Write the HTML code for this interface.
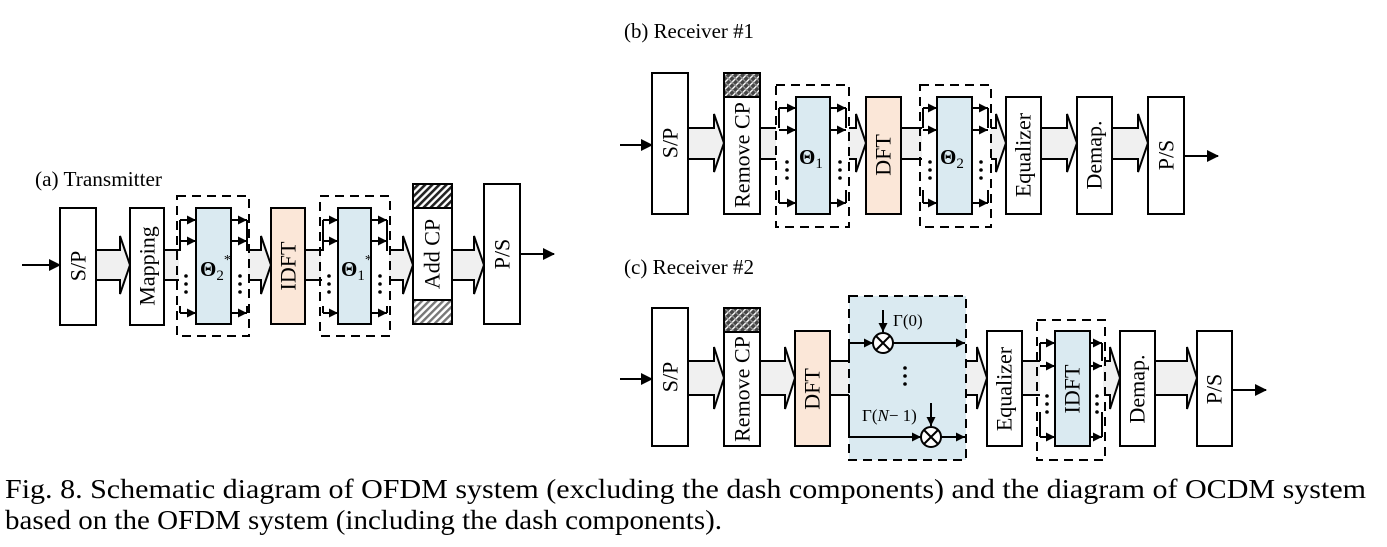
<!DOCTYPE html>
<html><head><meta charset="utf-8"><style>
html,body{margin:0;padding:0;background:#fff;}
svg{display:block;font-family:"Liberation Serif",serif;}
</style></head><body>
<svg width="1387" height="547" viewBox="0 0 1387 547" xmlns="http://www.w3.org/2000/svg">
<defs>
<marker id="ah" markerWidth="12" markerHeight="12" refX="11" refY="6" orient="auto" markerUnits="userSpaceOnUse"><path d="M0,0 L12,6 L0,12 z" fill="#000"/></marker>
<marker id="as" markerWidth="9" markerHeight="9" refX="9" refY="4.5" orient="auto" markerUnits="userSpaceOnUse"><path d="M0,0 L9,4.5 L0,9 z" fill="#000"/></marker>
<pattern id="hd" width="5" height="5" patternUnits="userSpaceOnUse" patternTransform="rotate(45)"><rect width="5" height="5" fill="#fff"/><rect width="2.6" height="5" fill="#222"/></pattern>
<pattern id="hg" width="5" height="5" patternUnits="userSpaceOnUse" patternTransform="rotate(45)"><rect width="5" height="5" fill="#fff"/><rect width="2.4" height="5" fill="#777"/></pattern>
<pattern id="hx" width="5" height="5" patternUnits="userSpaceOnUse" patternTransform="rotate(45)"><rect width="5" height="5" fill="#444"/><rect width="1.4" height="5" fill="#fff"/><rect width="5" height="1.2" fill="#999"/></pattern>
</defs>
<g stroke="#000" stroke-width="2" fill="none">

<!-- ===== (a) Transmitter ===== -->
<g fill="#f0f0f0">
<path d="M96,250 H120 V236 L130,265 L120,294 V280 H96"/>
<rect x="164" y="251" width="15" height="28" stroke="none"/>
<path d="M164,250 H179 M164,280 H179"/>
<rect x="248" y="251" width="14" height="28" stroke="none"/>
<path d="M249,250 H261 V236 L271,265 L261,294 V280 H249"/>
<rect x="305" y="251" width="16" height="28" stroke="none"/>
<path d="M305,250 H322 M305,280 H322"/>
<rect x="389" y="251" width="14" height="28" stroke="none"/>
<path d="M390,250 H403 V236 L413,265 L403,294 V280 H390"/>
<path d="M452,250 H474 V236 L484,265 L474,294 V280 H452"/>
</g>
<line x1="22" y1="265" x2="60" y2="265" marker-end="url(#ah)"/>
<line x1="520" y1="254" x2="554" y2="254" marker-end="url(#ah)"/>
<rect x="60" y="208" width="36" height="117" fill="#fff"/>
<rect x="130" y="208" width="34" height="117" fill="#fff"/>
<rect x="196" y="208" width="35" height="116" fill="#daeaf1"/>
<rect x="271" y="208" width="34" height="116" fill="#fbe7d8"/>
<rect x="338" y="208" width="33" height="116" fill="#daeaf1"/>
<rect x="413" y="184" width="39" height="140" fill="#fff"/>
<rect x="413" y="184" width="39" height="24" fill="url(#hd)"/>
<rect x="413" y="300" width="39" height="24" fill="url(#hg)"/>
<rect x="484" y="184" width="36" height="140" fill="#fff"/>
<rect x="177" y="196" width="72" height="140" stroke-dasharray="9,6"/>
<rect x="320" y="196" width="70" height="140" stroke-dasharray="9,6"/>
<path d="M180,251 V220 M180,306 V313 M247,220 V251 M247,306 V313 M323,251 V220 M323,306 V313 M387,220 V251 M387,306 V313"/>
<g marker-end="url(#as)">
<line x1="180" y1="220" x2="196" y2="220"/><line x1="180" y1="241" x2="196" y2="241"/><line x1="180" y1="313" x2="196" y2="313"/>
<line x1="231" y1="220" x2="247" y2="220"/><line x1="231" y1="241" x2="247" y2="241"/><line x1="231" y1="313" x2="247" y2="313"/>
<line x1="323" y1="220" x2="338" y2="220"/><line x1="323" y1="241" x2="338" y2="241"/><line x1="323" y1="313" x2="338" y2="313"/>
<line x1="371" y1="220" x2="387" y2="220"/><line x1="371" y1="241" x2="387" y2="241"/><line x1="371" y1="313" x2="387" y2="313"/>
</g>

<!-- ===== (b) Receiver #1 ===== -->
<g fill="#f0f0f0">
<path d="M688,128 H714 V114 L724,143 L714,172 V159 H688"/>
<rect x="760" y="129" width="16" height="29" stroke="none"/>
<path d="M760,128 H776 M760,159 H776"/>
<rect x="848" y="129" width="10" height="29" stroke="none"/>
<path d="M849,128 H856 V114 L866,143 L856,172 V159 H849"/>
<rect x="901" y="129" width="21" height="29" stroke="none"/>
<path d="M901,128 H922 M901,159 H922"/>
<rect x="990" y="129" width="8" height="29" stroke="none"/>
<path d="M991,128 H996 V114 L1006,143 L996,172 V159 H991"/>
<path d="M1041,128 H1067 V114 L1077,143 L1067,172 V159 H1041"/>
<path d="M1112,128 H1138 V114 L1148,143 L1138,172 V159 H1112"/>
</g>
<line x1="620" y1="145" x2="652" y2="145" marker-end="url(#ah)"/>
<line x1="1184" y1="156" x2="1218" y2="156" marker-end="url(#ah)"/>
<rect x="652" y="73" width="36" height="141" fill="#fff"/>
<rect x="724" y="73" width="36" height="141" fill="#fff"/>
<rect x="724" y="73" width="36" height="24" fill="url(#hx)"/>
<rect x="796" y="97" width="34" height="117" fill="#daeaf1"/>
<rect x="866" y="97" width="35" height="117" fill="#fbe7d8"/>
<rect x="937" y="97" width="35" height="117" fill="#daeaf1"/>
<rect x="1006" y="97" width="35" height="117" fill="#fff"/>
<rect x="1077" y="97" width="35" height="117" fill="#fff"/>
<rect x="1148" y="97" width="36" height="117" fill="#fff"/>
<rect x="776" y="85" width="73" height="142" stroke-dasharray="9,6"/>
<rect x="920" y="85" width="71" height="142" stroke-dasharray="9,6"/>
<path d="M779,128 V108 M779,190 V203 M846,108 V128 M846,190 V203 M923,128 V108 M923,190 V203 M988,108 V128 M988,190 V203"/>
<g marker-end="url(#as)">
<line x1="779" y1="108" x2="796" y2="108"/><line x1="779" y1="130" x2="796" y2="130"/><line x1="779" y1="203" x2="796" y2="203"/>
<line x1="830" y1="108" x2="846" y2="108"/><line x1="830" y1="130" x2="846" y2="130"/><line x1="830" y1="203" x2="846" y2="203"/>
<line x1="923" y1="108" x2="937" y2="108"/><line x1="923" y1="130" x2="937" y2="130"/><line x1="923" y1="203" x2="937" y2="203"/>
<line x1="972" y1="108" x2="988" y2="108"/><line x1="972" y1="130" x2="988" y2="130"/><line x1="972" y1="203" x2="988" y2="203"/>
</g>

<!-- ===== (c) Receiver #2 ===== -->
<rect x="849" y="296" width="117" height="164" fill="#daeaf1" stroke="none"/>
<g fill="#f0f0f0">
<path d="M688,361 H714 V347 L724,378 L714,409 V395 H688"/>
<path d="M760,361 H785 V347 L795,378 L785,409 V395 H760"/>
<rect x="830" y="362" width="19" height="32" stroke="none"/>
<path d="M830,361 H849 M830,395 H849"/>
<path d="M966,361 H977 V347 L987,378 L977,409 V395 H966"/>
<rect x="1022" y="362" width="18" height="32" stroke="none"/>
<path d="M1022,361 H1040 M1022,395 H1040"/>
<rect x="1103" y="362" width="8" height="32" stroke="none"/>
<path d="M1104,361 H1110 V347 L1120,378 L1110,409 V395 H1104"/>
<path d="M1155,361 H1187 V347 L1197,378 L1187,409 V395 H1155"/>
</g>
<line x1="620" y1="379" x2="652" y2="379" marker-end="url(#ah)"/>
<line x1="1232" y1="390" x2="1266" y2="390" marker-end="url(#ah)"/>
<rect x="652" y="308" width="36" height="138" fill="#fff"/>
<rect x="724" y="308" width="36" height="138" fill="#fff"/>
<rect x="724" y="308" width="36" height="24" fill="url(#hx)"/>
<rect x="795" y="331" width="35" height="115" fill="#fbe7d8"/>
<rect x="987" y="331" width="35" height="115" fill="#fff"/>
<rect x="1055" y="331" width="35" height="115" fill="#daeaf1"/>
<rect x="1120" y="331" width="35" height="115" fill="#fff"/>
<rect x="1197" y="331" width="35" height="115" fill="#fff"/>
<rect x="849" y="296" width="117" height="164" stroke-dasharray="9,6"/>
<rect x="1037" y="320" width="68" height="140" stroke-dasharray="9,6"/>
<path d="M849,361 V343 M849,395 V437"/>
<g marker-end="url(#as)">
<line x1="849" y1="343" x2="873" y2="343"/>
<line x1="893" y1="343" x2="965" y2="343"/>
<line x1="849" y1="437" x2="921" y2="437"/>
<line x1="941" y1="437" x2="965" y2="437"/>
<line x1="883" y1="310" x2="883" y2="332"/>
<line x1="931" y1="403" x2="931" y2="426"/>
</g>
<circle cx="883" cy="343" r="10" fill="#fff"/>
<line x1="876" y1="336" x2="890" y2="350"/><line x1="890" y1="336" x2="876" y2="350"/>
<circle cx="931" cy="437" r="10" fill="#fff"/>
<line x1="924" y1="430" x2="938" y2="444"/><line x1="938" y1="430" x2="924" y2="444"/>
<path d="M1040,361 V343 M1040,412 V437 M1102,343 V361 M1102,412 V437"/>
<g marker-end="url(#as)">
<line x1="1040" y1="343" x2="1055" y2="343"/><line x1="1040" y1="366" x2="1055" y2="366"/><line x1="1040" y1="437" x2="1055" y2="437"/>
<line x1="1090" y1="343" x2="1102" y2="343"/><line x1="1090" y1="366" x2="1102" y2="366"/><line x1="1090" y1="437" x2="1102" y2="437"/>
</g>
</g>

<!-- dots -->
<g fill="#000">
<circle cx="186" cy="276" r="1.8"/><circle cx="186" cy="284" r="1.8"/><circle cx="186" cy="292" r="1.8"/>
<circle cx="240" cy="276" r="1.8"/><circle cx="240" cy="284" r="1.8"/><circle cx="240" cy="292" r="1.8"/>
<circle cx="329" cy="276" r="1.8"/><circle cx="329" cy="284" r="1.8"/><circle cx="329" cy="292" r="1.8"/>
<circle cx="380" cy="276" r="1.8"/><circle cx="380" cy="284" r="1.8"/><circle cx="380" cy="292" r="1.8"/>
<circle cx="787" cy="162" r="1.8"/><circle cx="787" cy="170" r="1.8"/><circle cx="787" cy="178" r="1.8"/>
<circle cx="840" cy="162" r="1.8"/><circle cx="840" cy="170" r="1.8"/><circle cx="840" cy="178" r="1.8"/>
<circle cx="930" cy="162" r="1.8"/><circle cx="930" cy="170" r="1.8"/><circle cx="930" cy="178" r="1.8"/>
<circle cx="981" cy="162" r="1.8"/><circle cx="981" cy="170" r="1.8"/><circle cx="981" cy="178" r="1.8"/>
<circle cx="905" cy="368" r="1.8"/><circle cx="905" cy="376" r="1.8"/><circle cx="905" cy="384" r="1.8"/>
<circle cx="1047" cy="396" r="1.8"/><circle cx="1047" cy="404" r="1.8"/><circle cx="1047" cy="412" r="1.8"/>
<circle cx="1097" cy="396" r="1.8"/><circle cx="1097" cy="404" r="1.8"/><circle cx="1097" cy="412" r="1.8"/>
</g>

<!-- texts -->
<g font-size="21" fill="#000">
<text x="35" y="186" textLength="127" lengthAdjust="spacingAndGlyphs">(a) Transmitter</text>
<text x="624" y="38" textLength="130" lengthAdjust="spacingAndGlyphs">(b) Receiver #1</text>
<text x="624" y="274" textLength="130" lengthAdjust="spacingAndGlyphs">(c) Receiver #2</text>
</g>
<g font-size="22" fill="#000" text-anchor="middle" dominant-baseline="central">
<text x="78" y="266" transform="rotate(-90 78 266)">S/P</text>
<text x="147" y="266" transform="rotate(-90 147 266)">Mapping</text>
<text x="288" y="266" transform="rotate(-90 288 266)">IDFT</text>
<text x="432" y="254" transform="rotate(-90 432 254)">Add CP</text>
<text x="502" y="254" transform="rotate(-90 502 254)">P/S</text>
<text x="670" y="143" transform="rotate(-90 670 143)">S/P</text>
<text x="742" y="155" transform="rotate(-90 742 155)">Remove CP</text>
<text x="883" y="155" transform="rotate(-90 883 155)">DFT</text>
<text x="1023" y="155" transform="rotate(-90 1023 155)">Equalizer</text>
<text x="1094" y="155" transform="rotate(-90 1094 155)">Demap.</text>
<text x="1166" y="155" transform="rotate(-90 1166 155)">P/S</text>
<text x="670" y="377" transform="rotate(-90 670 377)">S/P</text>
<text x="742" y="389" transform="rotate(-90 742 389)">Remove CP</text>
<text x="812" y="389" transform="rotate(-90 812 389)">DFT</text>
<text x="1004" y="389" transform="rotate(-90 1004 389)">Equalizer</text>
<text x="1072" y="389" transform="rotate(-90 1072 389)">IDFT</text>
<text x="1137" y="389" transform="rotate(-90 1137 389)">Demap.</text>
<text x="1214" y="389" transform="rotate(-90 1214 389)">P/S</text>
</g>
<g font-size="21" fill="#000">
<text x="200" y="276"><tspan font-weight="bold">Θ</tspan><tspan font-size="15" dy="4">2</tspan><tspan font-size="14" dy="-16">*</tspan></text>
<text x="341" y="276"><tspan font-weight="bold">Θ</tspan><tspan font-size="15" dy="4">1</tspan><tspan font-size="14" dy="-16">*</tspan></text>
<text x="799" y="164"><tspan font-weight="bold">Θ</tspan><tspan font-size="15" dy="4">1</tspan></text>
<text x="940" y="164"><tspan font-weight="bold">Θ</tspan><tspan font-size="15" dy="4">2</tspan></text>
</g>
<g font-size="17" fill="#000">
<text x="893" y="326">Γ(0)</text>
<text x="862" y="421">Γ(<tspan font-style="italic">N</tspan>− 1)</text>
</g>
<g font-size="27" fill="#000">
<text x="5" y="498" textLength="1361" lengthAdjust="spacingAndGlyphs">Fig. 8.  Schematic diagram of OFDM system (excluding the dash components) and the diagram of OCDM system</text>
<text x="5" y="529" textLength="717" lengthAdjust="spacingAndGlyphs">based on the OFDM system (including the dash components).</text>
</g>
</svg>
</body></html>
